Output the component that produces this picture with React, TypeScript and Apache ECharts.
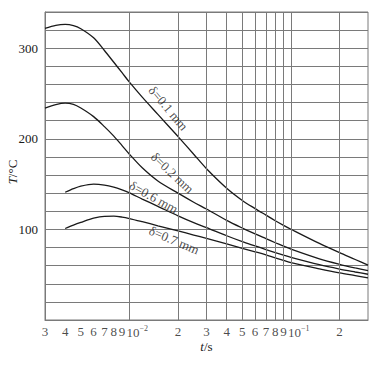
import React, { useEffect, useRef } from 'react';
import * as echarts from 'echarts';

// time values (s)
const times = [0.003, 0.0035, 0.004, 0.0045, 0.005, 0.006, 0.007, 0.008, 0.009, 0.01, 0.012, 0.015, 0.02, 0.025, 0.03, 0.04, 0.05, 0.06, 0.07, 0.08, 0.09, 0.1, 0.15, 0.2, 0.25, 0.3];

// temperature (°C) per plate thickness
const tempD01 = [322, 325.3, 326.3, 325, 321.5, 311.5, 297.5, 284.5, 273, 262.5, 246, 227, 202.5, 183, 167, 145.5, 132, 123, 115.8, 109.6, 104.5, 100.2, 84.5, 74.3, 66.8, 60.5];
const tempD02 = [234, 237.8, 239.4, 238, 234, 224.5, 213.5, 203, 192.5, 183, 168, 153.5, 140, 130, 122.5, 110, 101.5, 95, 89.8, 85.3, 81.5, 78.2, 67.5, 61.5, 57.5, 54.5];
const tempD06 = [null, null, 141, 145, 147.8, 150, 149, 146.7, 143.6, 140.3, 133.5, 125.5, 115, 107.5, 102, 93, 86.5, 81.8, 77.8, 74.5, 71.6, 69.1, 61, 56.2, 53, 50.5];
const tempD07 = [null, null, 101, 104.8, 107.8, 112.5, 114.5, 114.6, 113.6, 112, 108.5, 104, 98.3, 93.8, 90, 84, 79.2, 75.3, 72, 68.6, 65.8, 63.3, 56.5, 52, 49, 46.5];

const curveNames = ['δ=0.1 mm', 'δ=0.2 mm', 'δ=0.6 mm', 'δ=0.7 mm'];
const curveTemps = [tempD01, tempD02, tempD06, tempD07];

// label anchors (time value on the curve where each name sits)
const labelAt = [0.015, 0.02, 0.015, 0.02];
const labelRotate = [-50, -43, -29, -23];
const labelOffset = [[2, -12], [-18, -11], [-8, -6], [0, 10]];

// x tick values & labels
const xTicks = [0.003, 0.004, 0.005, 0.006, 0.007, 0.008, 0.009, 0.01, 0.02, 0.03, 0.04, 0.05, 0.06, 0.07, 0.08, 0.09, 0.1, 0.2];
const xTickLabels = ['3', '4', '5', '6', '7', '8', '9', '{b|10}{s|−2}', '2', '3', '4', '5', '6', '7', '8', '9', '{b|10}{s|−1}', '2'];
const yLabelValues = [100, 200, 300];

const FONT = 'Liberation Serif, DejaVu Serif, serif';
const GRID = '#7a7a7a';
const INK = '#1a1a1a';

export default function App() {
  const ref = useRef<HTMLDivElement>(null);

  useEffect(() => {
    if (!ref.current) return;
    const chart = echarts.init(ref.current, null, { renderer: 'svg' });

    const curveSeries = curveTemps.map((temps, i) => ({
      type: 'line',
      name: curveNames[i],
      data: times.map((t, k) => [t, temps[k]]),
      showSymbol: false,
      symbol: 'none',
      smooth: 0.3,
      connectNulls: false,
      lineStyle: { color: INK, width: 1.3 },
      z: 4,
      silent: true,
    }));

    const labelSeries = {
      type: 'scatter',
      z: 5,
      clip: false,
      silent: true,
      symbolSize: 1,
      itemStyle: { color: 'rgba(0,0,0,0)' },
      data: curveNames.map((name, i) => {
        const k = times.indexOf(labelAt[i]);
        return {
          value: [labelAt[i], curveTemps[i][k]],
          label: {
            show: true,
            formatter: name,
            position: 'inside',
            rotate: labelRotate[i],
            offset: labelOffset[i],
            fontFamily: FONT,
            fontSize: 13,
            color: INK,
          },
        };
      }),
    };

    const tickSeries = {
      type: 'scatter',
      z: 1,
      clip: false,
      silent: true,
      symbolSize: 1,
      itemStyle: { color: 'rgba(0,0,0,0)' },
      data: xTicks.map((v, i) => {
        const isDecade = xTickLabels[i].startsWith('{');
        return {
          value: [v, 0],
          label: {
            show: true,
            position: 'bottom',
            distance: 4,
            formatter: xTickLabels[i],
            align: isDecade ? 'left' : 'center',
            offset: isDecade ? [-3, 0] : [0, 0],
            fontFamily: FONT,
            fontSize: 13,
            color: INK,
            rich: {
              b: { fontFamily: FONT, fontSize: 13, color: INK, lineHeight: 15 },
              s: { fontFamily: FONT, fontSize: 8, color: INK, verticalAlign: 'top', lineHeight: 9 },
            },
          },
        };
      }),
      markLine: {
        silent: true,
        symbol: ['none', 'none'],
        label: { show: false },
        lineStyle: { color: GRID, width: 1, type: 'solid' },
        emphasis: { disabled: true },
        data: xTicks.map((v) => ({ xAxis: v })),
      },
    };

    chart.setOption({
      animation: false,
      backgroundColor: '#ffffff',
      grid: {
        left: 45,
        right: 19,
        top: 12,
        bottom: 46,
        containLabel: false,
        outerBoundsMode: 'none',
        show: true,
        borderColor: GRID,
        borderWidth: 1,
      },
      xAxis: {
        type: 'log',
        logBase: 10,
        min: 0.003,
        max: 0.3,
        name: '{i|t}/s',
        nameLocation: 'middle',
        nameGap: 20,
        nameMoveOverlap: false,
        nameTextStyle: {
          fontFamily: FONT,
          fontSize: 13,
          color: INK,
          rich: { i: { fontStyle: 'italic', fontFamily: FONT, fontSize: 13, color: INK } },
        },
        axisLine: { show: true, lineStyle: { color: GRID } },
        axisTick: { show: false },
        axisLabel: { show: false },
        splitLine: { show: false },
        minorSplitLine: { show: false },
      },
      yAxis: {
        type: 'value',
        min: 0,
        max: 340,
        interval: 20,
        name: '{i|T}/°C',
        nameLocation: 'middle',
        nameGap: 26,
        nameMoveOverlap: false,
        nameTextStyle: {
          fontFamily: FONT,
          fontSize: 13,
          color: INK,
          padding: [0, 12, 0, 0],
          rich: { i: { fontStyle: 'italic', fontFamily: FONT, fontSize: 13, color: INK } },
        },
        axisLine: { show: true, lineStyle: { color: GRID } },
        axisTick: { show: true, inside: true, length: 3, lineStyle: { color: GRID } },
        axisLabel: {
          margin: 7,
          fontFamily: FONT,
          fontSize: 13,
          color: INK,
          formatter: (v: number) => (yLabelValues.includes(v) ? String(v) : ''),
        },
        splitLine: { show: true, lineStyle: { color: GRID, width: 1 } },
      },
      series: [tickSeries, ...curveSeries, labelSeries],
    });

    return () => chart.dispose();
  }, []);

  return (
    <div
      ref={ref}
      style={{ position: 'fixed', left: 0, top: 0, width: 387, height: 366, background: '#fff' }}
    />
  );
}
